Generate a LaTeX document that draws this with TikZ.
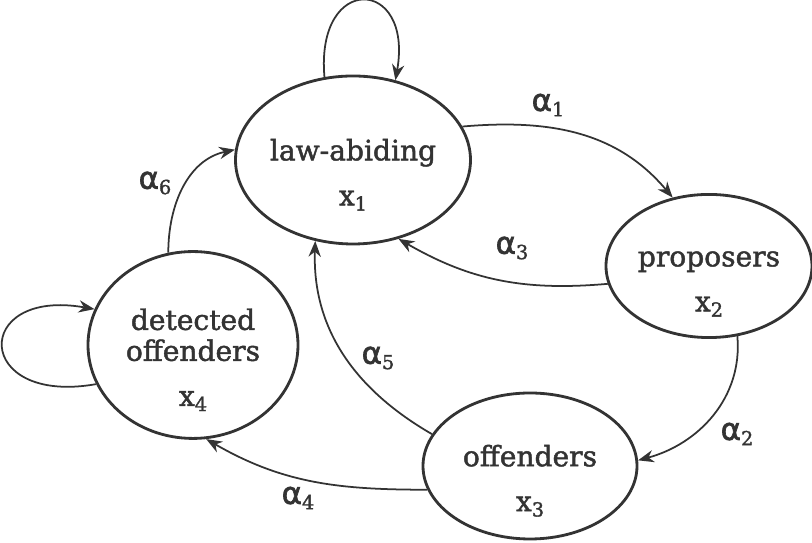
\documentclass[tikz,border=0pt]{standalone}
\usepackage{fontspec}
\setmainfont{DejaVu Serif}
\newfontfamily\statefont{DejaVu Serif}[UprightFeatures={FakeBold=1.6}]
\newfontfamily\alphafont{DejaVu Sans}[UprightFeatures={FakeBold=2}]
\usetikzlibrary{arrows.meta,shapes.geometric}
\definecolor{chainInk}{HTML}{333333}
\newcommand{\rate}[1]{{\alphafont\fontsize{17.5}{20}\selectfont α}\raisebox{-3pt}{\statefont\fontsize{11}{13}\selectfont #1}}
\newcommand{\statevar}[1]{x\raisebox{-3pt}{\fontsize{11}{13}\selectfont #1}}
\newcommand{\stateup}{\rule{0pt}{29pt}}

\begin{document}
\begin{tikzpicture}[x=1cm,y=1cm,
    state/.style={ellipse, draw=chainInk, line width=1.6pt, inner sep=0pt, align=center,
      text=chainInk, font=\statefont\fontsize{16}{17.6}\selectfont},
    link/.style={draw=chainInk, line width=1pt, -{Stealth[length=9pt,width=7pt]}},
    rate/.style={text=chainInk, inner sep=1pt}]
  \useasboundingbox (0,0) rectangle (16.24,10.86);
  % states
  \node[state, minimum width=4.32cm, minimum height=3.36cm] (law) at (7.06,7.66) {\stateup law-abiding\\[8pt]\statevar{1}};
  \node[state, minimum width=4.12cm, minimum height=2.84cm] (prop) at (14.18,5.54) {\stateup proposers\\[8pt]\statevar{2}};
  \node[state, minimum width=4.28cm, minimum height=2.92cm] (off) at (10.6,1.54) {\stateup offenders\\[8pt]\statevar{3}};
  \node[state, minimum width=4.2cm, minimum height=3.08cm] (det) at (3.86,3.96) {\stateup detected\\offenders\\[8pt]\statevar{4}};
  % transitions
  \draw[link] (law.109) .. controls +(95:2.1) and +(80:2.1) .. (law.62);
  \draw[link] (law.17) to[out=5,in=130] (prop.118);
  \draw[link] (prop.190) to[out=185,in=-30] (law.300);
  \draw[link] (prop.292) to[out=-85,in=15] (off.3);
  \draw[link] (off.162) to[out=150,in=-92] (law.245);
  \draw[link] (off.193) to[out=180,in=-30] (det.278);
  \draw[link] (det.105) to[out=90,in=192] (law.175);
  \draw[link] (det.202) .. controls +(190:2.5) and +(170:2.5) .. (det.160);
  % rates
  \node[rate] (a1) at (10.96,8.76) {\rate{1}};
  \node[rate] (a2) at (14.74,2.18) {\rate{2}};
  \node[rate] (a3) at (10.24,5.90) {\rate{3}};
  \node[rate] (a4) at (5.96,0.90) {\rate{4}};
  \node[rate] (a5) at (7.56,3.70) {\rate{5}};
  \node[rate] (a6) at (3.10,7.20) {\rate{6}};
\end{tikzpicture}
\end{document}
